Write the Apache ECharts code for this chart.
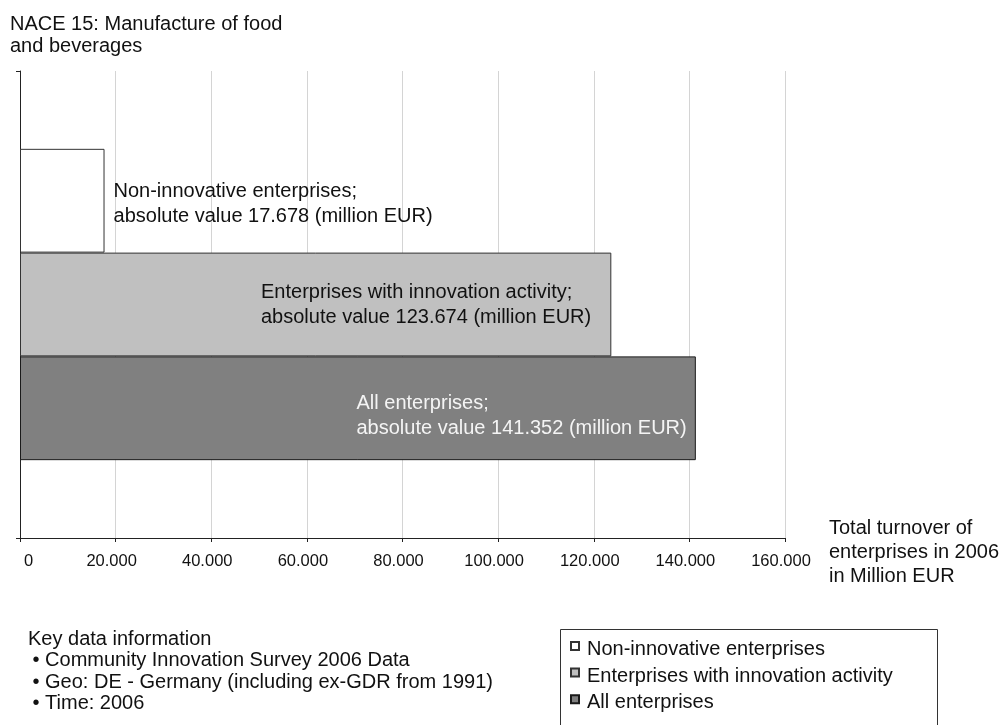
<!DOCTYPE html>
<html><head><meta charset="utf-8">
<script src="https://cdn.jsdelivr.net/npm/echarts@6/dist/echarts.min.js"></script>
<style>html,body{margin:0;padding:0;background:#fff}#c{width:999px;height:725px}</style>
</head><body><div id="c"></div>
<script>
// ---- data ----
const categories = ['NACE 15'];
const seriesNames = ['Non-innovative enterprises', 'Enterprises with innovation activity', 'All enterprises'];
const seriesValues = [17678, 123674, 141352];
const xMin = 0, xMax = 160000, xStep = 20000;
const titleLines = ['NACE 15: Manufacture of food', 'and beverages'];
const axisNameLines = ['Total turnover of', 'enterprises in 2006', 'in Million EUR'];
const keyInfoTitle = 'Key data information';
const keyInfoItems = ['Community Innovation Survey 2006 Data', 'Geo: DE - Germany (including ex-GDR from 1991)', 'Time: 2006'];

// ---- styles ----
const FONT = "'Liberation Sans', Arial, sans-serif";
const fills = ['#ffffff', '#c0c0c0', '#808080'];
const borders = ['#333333', '#333333', '#1a1a1a'];
const labelColors = ['#111111', '#111111', '#f4f4f4'];
const labelPos = ['right', 'insideLeft', 'insideLeft'];
const labelDist = [9, 241, 336.5];
const labelOffset = [[0, 3], [0, 0], [0, 8]];

function fmt(v) {
  return String(Math.round(v)).replace(/\B(?=(\d{3})+(?!\d))/g, '.');
}

const chart = echarts.init(document.getElementById('c'), null, {renderer: 'canvas'});

const series = seriesNames.map((name, i) => ({
  name: name,
  type: 'bar',
  data: [seriesValues[i]],
  barGap: '0%',
  barCategoryGap: '33.333%',
  itemStyle: {color: fills[i], borderColor: borders[i], borderWidth: 1},
  label: {
    show: true,
    position: labelPos[i],
    distance: labelDist[i],
    offset: labelOffset[i],
    align: 'left',
    color: labelColors[i],
    fontFamily: FONT,
    fontSize: 20,
    lineHeight: 25,
    formatter: p => p.seriesName + ';\nabsolute value ' + fmt(p.value) + ' (million EUR)'
  },
  emphasis: {disabled: true},
  animation: false
}));

// square icon sitting at the top of its box (text is vertically centred lower)
const legendIcon = 'path://M0,0H8V8H0Z M0,15.4h0.001';

chart.setOption({
  animation: false,
  backgroundColor: '#ffffff',
  textStyle: {fontFamily: FONT},
  title: {
    text: titleLines.join('\n'),
    left: 10, top: 13, padding: 0,
    textStyle: {fontFamily: FONT, fontSize: 20, lineHeight: 22, fontWeight: 'normal', color: '#111'}
  },
  legend: {
    data: seriesNames,
    orient: 'vertical',
    left: 570, top: 639.7, padding: 0,
    itemWidth: 8, itemHeight: 15.4, itemGap: 6.6,
    icon: legendIcon,
    selectedMode: false,
    textStyle: {fontFamily: FONT, fontSize: 20, lineHeight: 20, color: '#111', padding: [0, 0, 0, 3]}
  },
  grid: {left: 20, right: 214, top: 71, bottom: 187, containLabel: false},
  xAxis: {
    type: 'value',
    min: xMin, max: xMax, interval: xStep,
    axisLine: {show: true, lineStyle: {color: '#222', width: 1}},
    axisTick: {show: true, length: 4, lineStyle: {color: '#222'}},
    splitLine: {show: true, lineStyle: {color: '#d4d4d4', width: 1}},
    axisLabel: {
      fontFamily: FONT, fontSize: 16.5, color: '#111', margin: 15,
      padding: [0, 8, 0, 0],
      alignMinLabel: 'left',
      formatter: v => v === 0 ? '{z|0}' : fmt(v),
      rich: {z: {fontFamily: FONT, fontSize: 16.5, color: '#111', padding: [0, 0, 0, 4]}}
    }
  },
  yAxis: {
    type: 'category',
    data: categories,
    axisLine: {show: true, lineStyle: {color: '#222', width: 1}},
    axisTick: {show: true, length: 4, lineStyle: {color: '#222'}},
    axisLabel: {show: false},
    splitLine: {show: false}
  },
  graphic: [
    {
      type: 'text', x: 829, y: 516,
      style: {text: axisNameLines.join('\n'), font: '20px ' + FONT, fill: '#111', lineHeight: 24, verticalAlign: 'top', align: 'left'}
    },
    {
      type: 'text', x: 28, y: 629,
      style: {text: keyInfoTitle, font: '20px ' + FONT, fill: '#111', lineHeight: 21.3, verticalAlign: 'top', align: 'left'}
    },
    {
      type: 'text', x: 32.5, y: 650.3,
      style: {text: keyInfoItems.map(s => '\u2022 ' + s).join('\n'), font: '20px ' + FONT, fill: '#111', lineHeight: 21.3, verticalAlign: 'top', align: 'left'}
    },
    {
      type: 'rect', z: -1,
      shape: {x: 560.5, y: 629.5, width: 377, height: 120},
      style: {fill: 'none', stroke: '#333', lineWidth: 1}
    }
  ],
  series: series
});
</script>
</body></html>
